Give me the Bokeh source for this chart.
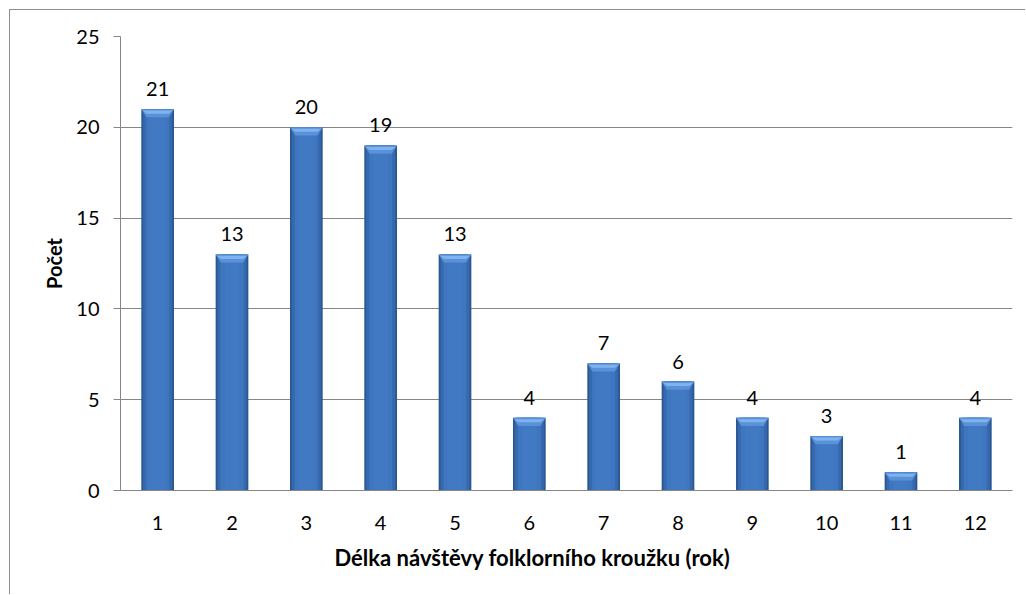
from bokeh.plotting import figure
from bokeh.models import ColumnDataSource, LabelSet, FixedTicker, Range1d, Title
from bokeh.core.properties import value
from bokeh.embed import file_html
from bokeh.resources import INLINE

categories = [1, 2, 3, 4, 5, 6, 7, 8, 9, 10, 11, 12]
counts = [21, 13, 20, 19, 13, 4, 7, 6, 4, 3, 1, 4]
y_ticks = [0, 5, 10, 15, 20, 25]
x_title = "Délka návštěvy folklorního kroužku (rok)"
y_title = "Počet"

FONT = "Lato"
W = 0.44
BEV = 0.45  # bevel height in data units

p = figure(width=1016, height=585, output_backend="svg", toolbar_location=None,
           x_range=Range1d(0.5, 12.5), y_range=Range1d(0, 25),
           min_border_left=110, min_border_right=14, min_border_top=26, min_border_bottom=105)
p.styles = {"margin-left": "9px", "margin-top": "9px",
            "border-left": "1px solid #8c8c8c", "border-top": "1px solid #8c8c8c"}
p.outline_line_color = None
p.background_fill_color = "white"
p.border_fill_color = "white"

src = ColumnDataSource(dict(x=categories, top=counts, lab=[str(c) for c in counts]))

# bar body layers (darker edges, lighter core)
p.vbar(x="x", top="top", bottom=0, width=W, source=src, fill_color="#2b5893", line_color=None)
p.vbar(x="x", top="top", bottom=0, width=W - 0.05, source=src, fill_color="#3669ad", line_color=None)
p.vbar(x="x", top="top", bottom=0, width=W - 0.13, source=src, fill_color="#3e76bf", line_color=None)
p.vbar(x="x", top="top", bottom=0, width=W - 0.24, source=src, fill_color="#4179c2", line_color=None)

# top bevel
xs_outer, ys_outer, xs_inner, ys_inner = [], [], [], []
for c, v in zip(categories, counts):
    h = min(BEV, v * 0.45)
    xs_outer.append([c - W / 2, c + W / 2, c + W / 2 - 0.07, c - W / 2 + 0.07])
    ys_outer.append([v, v, v - h, v - h])
    xs_inner.append([c - W / 2 + 0.02, c + W / 2 - 0.02, c + W / 2 - 0.07, c - W / 2 + 0.07])
    ys_inner.append([v - 0.08, v - 0.08, v - h * 0.55, v - h * 0.55])
p.patches(xs_outer, ys_outer, fill_color="#5a92d9", line_color=None)
p.patches(xs_inner, ys_inner, fill_color="#7fb3f0", line_color=None)

labels = LabelSet(x="x", y="top", text="lab", source=src, y_offset=13,
                  text_align="center", text_baseline="alphabetic",
                  text_font=value(FONT), text_font_size="20px", text_color="black")
p.add_layout(labels)

# axes
p.xaxis.ticker = FixedTicker(ticks=categories)
p.xaxis.major_tick_line_color = None
p.xaxis.minor_tick_line_color = None
p.xaxis.major_tick_out = 0
p.xaxis.major_label_standoff = 25
p.xaxis.axis_line_color = "#868686"
p.xaxis.major_label_text_font = FONT
p.xaxis.major_label_text_font_size = "20px"
p.xaxis.major_label_text_color = "black"

p.yaxis.ticker = FixedTicker(ticks=y_ticks)
p.yaxis.minor_tick_line_color = None
p.yaxis.major_tick_in = 0
p.yaxis.major_tick_out = 7
p.yaxis.major_tick_line_color = "#868686"
p.yaxis.axis_line_color = "#868686"
p.yaxis.major_label_standoff = 14
p.yaxis.major_label_text_font = FONT
p.yaxis.major_label_text_font_size = "20px"
p.yaxis.major_label_text_color = "black"
p.yaxis.axis_label = y_title
p.yaxis.axis_label_text_font = FONT
p.yaxis.axis_label_text_font_style = "bold"
p.yaxis.axis_label_text_font_size = "20px"
p.yaxis.axis_label_text_color = "black"
p.yaxis.axis_label_standoff = 7

p.xgrid.grid_line_color = None
p.ygrid.ticker = FixedTicker(ticks=y_ticks)
p.ygrid.grid_line_color = "#868686"

# x axis title, placed slightly left of centre as in the original
p.add_layout(Title(text=x_title, align="left", offset=214, standoff=18,
                   text_font=FONT, text_font_style="bold", text_font_size="22px",
                   text_color="black"), "below")

open("out.html", "w").write(file_html(p, INLINE))
